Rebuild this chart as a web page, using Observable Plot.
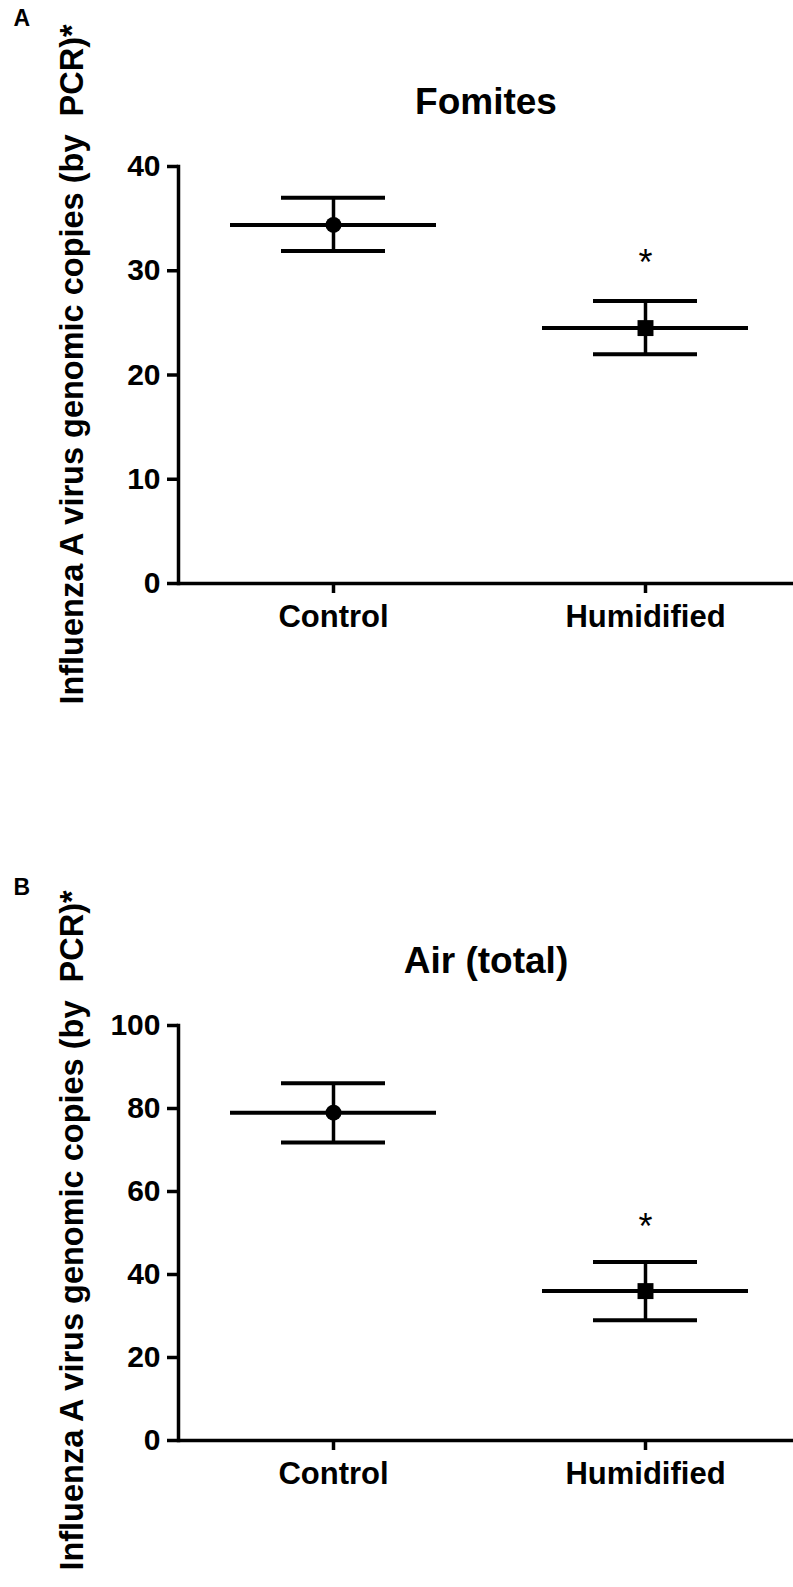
<!DOCTYPE html>
<html><head><meta charset="utf-8">
<script src="https://cdn.jsdelivr.net/npm/d3@7"></script>
<script src="https://cdn.jsdelivr.net/npm/@observablehq/plot@0.6"></script>
<style>html,body{margin:0;padding:0;background:#fff} #chart svg{display:block}</style>
</head><body><div id="chart"></div>
<script>
const groups = ["Control", "Humidified"];
const symbols = ["circle", "square"];

const fomitesMean = [34.4, 24.5];
const fomitesLow  = [31.9, 22.0];
const fomitesHigh = [37.0, 27.1];
const fomitesTicks = [0, 10, 20, 30, 40];
const fomitesStar = 31.1;

const airMean = [79.0, 36.0];
const airLow  = [71.8, 29.0];
const airHigh = [86.1, 43.0];
const airTicks = [0, 20, 40, 60, 80, 100];
const airStar = 52.3;

const yLabel = "Influenza A virus genomic copies (by\u00a0 PCR)*";
const FONT = "Liberation Sans, Arial, Helvetica, sans-serif";

function panel({letter, title, mean, low, high, ticks, star, height, marginTop, marginBottom, yMax, labelDy, letterDy}) {
  const rows = groups.map((g, i) => ({group: g, mean: mean[i], low: low[i], high: high[i], symbol: symbols[i]}));
  const W = 793, ML = 178;
  return Plot.plot({
    width: W, height, marginLeft: ML, marginRight: 0, marginTop, marginBottom,
    style: {fontFamily: FONT, background: "white", overflow: "visible", color: "black"},
    x: {type: "point", domain: groups, range: [333, 645], padding: 0},
    y: {domain: [0, yMax]},
    marks: [
      Plot.axisY({ticks, tickSize: 11, tickPadding: 7, fontSize: 30, fontWeight: "bold", strokeWidth: 3.5, label: null}),
      Plot.axisX({tickSize: 10, tickPadding: 11, fontSize: 31, fontWeight: "bold", strokeWidth: 3.5, label: null}),
      Plot.frame({anchor: "left", strokeWidth: 3.5}),
      Plot.ruleY([0], {strokeWidth: 3.5}),
      Plot.ruleX(rows, {x: "group", y1: "low", y2: "high", strokeWidth: 3.5}),
      Plot.ruleY(rows, {y: "mean", x1: "group", x2: "group", insetLeft: -103, insetRight: -103, strokeWidth: 4}),
      Plot.ruleY(rows, {y: "low", x1: "group", x2: "group", insetLeft: -52, insetRight: -52, strokeWidth: 4}),
      Plot.ruleY(rows, {y: "high", x1: "group", x2: "group", insetLeft: -52, insetRight: -52, strokeWidth: 4}),
      Plot.dot(rows.filter(d => d.symbol === "circle"), {x: "group", y: "mean", symbol: "circle", r: 8, fill: "black"}),
      Plot.dot(rows.filter(d => d.symbol === "square"), {x: "group", y: "mean", symbol: "square", r: 9, fill: "black"}),
      Plot.text([{group: groups[1], y: star}], {x: "group", y: "y", text: () => "*", fontSize: 36, fontWeight: "normal", dy: 4, fontFamily: FONT}),
      Plot.text([title], {frameAnchor: "top", dx: 0, dy: -64, fontSize: 37, fontWeight: "bold", lineAnchor: "middle", fontFamily: FONT}),
      Plot.text([letter], {frameAnchor: "top-left", dx: 13 - ML, dy: letterDy, fontSize: 23, fontWeight: "bold", lineAnchor: "middle", fontFamily: FONT}),
      Plot.text([yLabel], {frameAnchor: "left", rotate: -90, dx: 72 - ML, dy: labelDy, fontSize: 32.5, fontWeight: "bold", lineAnchor: "middle", textAnchor: "middle", fontFamily: FONT})
    ]
  });
}

const chart = document.getElementById("chart");
chart.appendChild(panel({letter: "A", title: "Fomites", mean: fomitesMean, low: fomitesLow, high: fomitesHigh,
  ticks: fomitesTicks, star: fomitesStar, height: 793, marginTop: 166, marginBottom: 210, yMax: 40,
  labelDy: -10.5, letterDy: 18.5 - 166}));
chart.appendChild(panel({letter: "B", title: "Air (total)", mean: airMean, low: airLow, high: airHigh,
  ticks: airTicks, star: airStar, height: 794, marginTop: 232, marginBottom: 147, yMax: 100,
  labelDy: -2.5, letterDy: 94.5 - 232}));
</script>
</body></html>
